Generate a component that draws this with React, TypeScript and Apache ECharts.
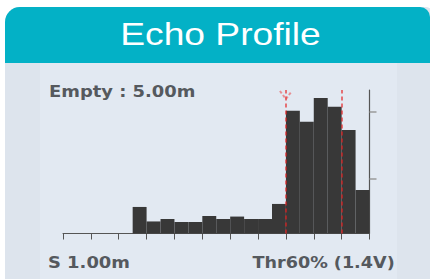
import React, { useEffect, useRef } from "react";
import * as echarts from "echarts";

const binLabels = ["0","1","2","3","4","5","6","7","8","9","10","11","12","13","14","15","16","17","18","19","20","21"];
const echoValues = [0, 0, 0, 0, 0, 18.5, 8.4, 10.1, 8.0, 8.0, 12.2, 10.1, 11.8, 10.1, 10.1, 20.6, 85.6, 77.9, 94.4, 88.4, 72.1, 30.3];
const thresholdBins = [16, 20];
const rightTickValues = [38, 85];
const titleText = "Echo Profile";
const emptyText = "Empty : 5.00m";
const startText = "S 1.00m";
const thrText = "Thr60% (1.4V)";

export default function App() {
  const ref = useRef<HTMLDivElement>(null);
  useEffect(() => {
    document.body.style.margin = "0";
    const chart = echarts.init(ref.current!, null, { renderer: "svg" });
    const labelFont = { fontFamily: "DejaVu Sans", fontWeight: "bold" as const, fontSize: 16, fill: "#55595e" };
    const baseGraphics: any[] = [
      { type: "rect", z: -10, shape: { x: 5, y: 7, width: 430, height: 280, r: [15, 10, 0, 0] }, style: { fill: "#dde4ed" } },
      { type: "rect", z: -9, shape: { x: 40, y: 63, width: 357, height: 220 }, style: { fill: "#e2e9f2" } },
      { type: "rect", z: -8, shape: { x: 5, y: 7, width: 425, height: 56, r: [15, 10, 0, 0] }, style: { fill: "#03b1c6" } },
      { type: "text", z: 5, x: 220.5, y: 34, scaleX: 1.2, style: { text: titleText, fontFamily: "Liberation Sans", fontSize: 31, fill: "#ffffff", align: "center", verticalAlign: "middle" } },
      { type: "text", z: 5, x: 49, y: 91.5, scaleX: 1.12, style: { ...labelFont, text: emptyText, align: "left", verticalAlign: "middle" } },
      { type: "text", z: 5, x: 48, y: 262, scaleX: 1.12, style: { ...labelFont, text: startText, align: "left", verticalAlign: "middle" } },
      { type: "text", z: 5, x: 252.5, y: 262, scaleX: 1.1, style: { ...labelFont, text: thrText, align: "left", verticalAlign: "middle" } },
    ];
    chart.setOption({
      animation: false,
      backgroundColor: "#ffffff",
      grid: { left: 63, right: 60.5, top: 90, bottom: 45.5 },
      xAxis: [
        {
          type: "category",
          data: binLabels,
          boundaryGap: true,
          axisLine: { show: true, onZero: false, lineStyle: { color: "#555555", width: 1 } },
          axisTick: { show: true, interval: 1, length: 6, lineStyle: { color: "#555555" } },
          axisLabel: { show: false },
          splitLine: { show: false },
        },
        { type: "value", min: 0, max: 22, show: false, axisLine: { onZero: false } },
      ],
      yAxis: {
        type: "value",
        min: 0,
        max: 100,
        position: "right",
        axisLine: { show: true, onZero: false, lineStyle: { color: "#555555", width: 1.2 } },
        axisTick: { show: true, customValues: rightTickValues, length: 7, lineStyle: { color: "#9a9a9a", width: 1.5 } },
        axisLabel: { show: false },
        splitLine: { show: false },
      },
      series: [
        {
          type: "bar",
          data: echoValues,
          barWidth: "100%",
          barCategoryGap: "0%",
          itemStyle: { color: "#383838" },
          z: 2,
        },
        {
          type: "line",
          xAxisIndex: 1,
          data: thresholdBins.map((b) => [b, 0]),
          symbol: "none",
          lineStyle: { opacity: 0 },
          z: 3,
          markLine: {
            silent: true,
            symbol: ["none", "none"],
            label: { show: false },
            lineStyle: { color: "rgba(230,30,30,0.6)", type: [4, 3], width: 2 },
            data: thresholdBins.map((b) => ({ xAxis: b })),
          },
        },
      ],
      graphic: baseGraphics,
    });
    const p = chart.convertToPixel({ seriesIndex: 1 }, [thresholdBins[0], 100]) as number[];
    if (p) {
      chart.setOption({
        graphic: [
          ...baseGraphics,
          {
            type: "polyline",
            z: 6,
            shape: { points: [[p[0] - 6, p[1] + 1], [p[0], p[1] + 9], [p[0] + 6, p[1] + 1]] },
            style: { stroke: "rgba(235,70,70,0.55)", lineWidth: 2, lineDash: [3, 2], fill: "none" },
          },
        ],
      });
    }
    return () => chart.dispose();
  }, []);
  return <div ref={ref} style={{ width: 430, height: 279 }} />;
}
